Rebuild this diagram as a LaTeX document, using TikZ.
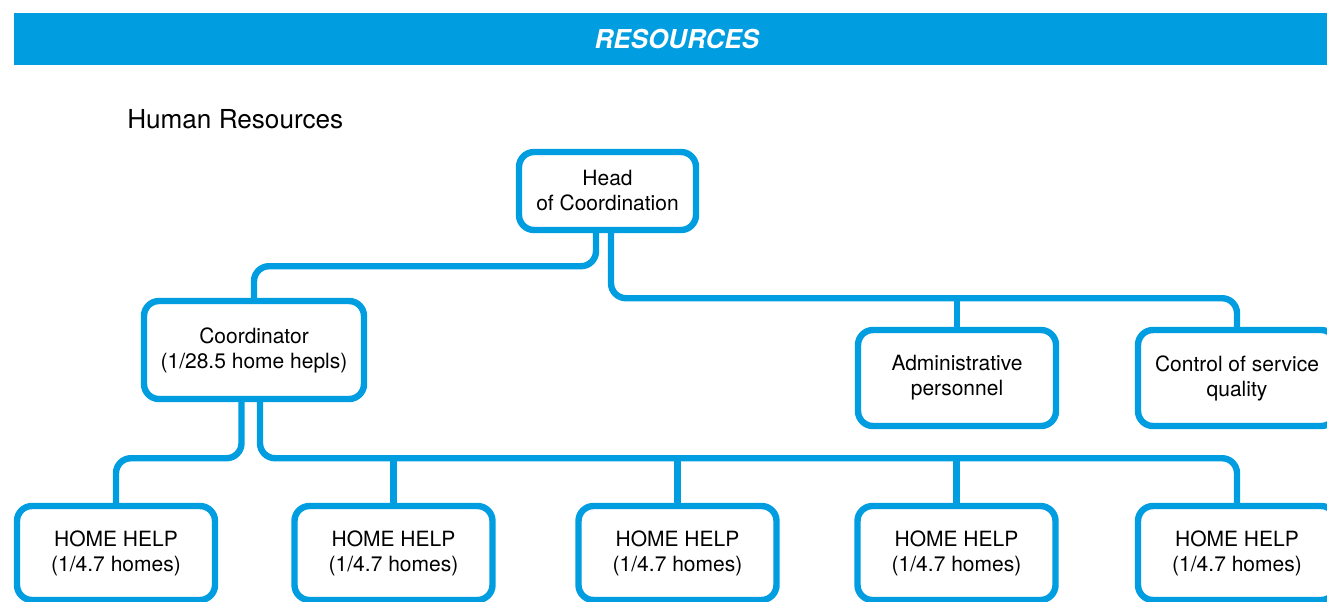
\documentclass[tikz,border=0pt]{standalone}
\usepackage{tikz}
\usepackage{xcolor}
\usepackage{fontspec}
\setmainfont{TeX Gyre Heros}
\usetikzlibrary{calc}
\definecolor{hrblue}{RGB}{0,158,224}

\begin{document}
\begin{tikzpicture}[x=0.75pt,y=0.75pt,yscale=-1,xscale=1,
  unit/.style={draw=hrblue, line width=4.8pt, rounded corners=11.25pt, fill=white, inner sep=0pt, align=center, font=\fontsize{15.75}{18.75}\selectfont},
  helper/.style={unit, minimum width=148.5pt, minimum height=70.5pt},
  link/.style={draw=hrblue, line width=4.8pt, rounded corners=11.25pt}]
\useasboundingbox (0,0) rectangle (1327,601);

%Banner [id:banner]
\node [fill=hrblue, anchor=north west, inner sep=0pt, minimum width=993.75pt, minimum height=39pt, text=white, font=\fontsize{19.5}{20}\selectfont\bfseries\itshape] (banner) at (14,13) {RESOURCES};
% Text Node
\node [anchor=west, inner sep=0pt, font=\fontsize{19.6}{21}\selectfont] (title) at (127,119) {Human Resources};

%Rounded Rect [id:head]
\node [unit, minimum width=132.75pt, minimum height=58.5pt] (head) at (607.5,191) {Head\\of Coordination};
%Rounded Rect [id:coord]
\node [unit, minimum width=165pt, minimum height=73.5pt] (coord) at (254,350) {Coordinator\\(1/28.5 home hepls)};
%Rounded Rect [id:admin]
\node [unit, minimum width=148.5pt, minimum height=72pt] (admin) at (957,378) {Administrative\\personnel};
%Rounded Rect [id:quality]
\node [unit, minimum width=148.5pt, minimum height=72pt] (quality) at (1237,378) {Control of service\\quality};

%Rounded Rect [id:hh1..hh5]
\node [helper] (hh1) at (116,553) {HOME HELP\\(1/4.7 homes)};
\node [helper] (hh2) at (393.5,553) {HOME HELP\\(1/4.7 homes)};
\node [helper] (hh3) at (677.5,553) {HOME HELP\\(1/4.7 homes)};
\node [helper] (hh4) at (956.5,553) {HOME HELP\\(1/4.7 homes)};
\node [helper] (hh5) at (1237,553) {HOME HELP\\(1/4.7 homes)};

%Connectors: head of coordination
\coordinate (lbus) at ($(head.south)+(-11.5,33)$);
\coordinate (rbus) at ($(head.south)+(3.5,65)$);
\draw [link] ($(head.south)+(-11.5,0)$) -- (lbus) -| (coord.north);
\draw [link] ($(head.south)+(3.5,0)$) -- (rbus) -| (quality.north);
\draw [link] (admin.north) -- (admin.north |- rbus);

%Connectors: coordinator
\coordinate (cbus) at ($(coord.south)+(-12.5,56)$);
\coordinate (hbus) at ($(coord.south)+(6,56)$);
\draw [link] ($(coord.south)+(-12.5,0)$) -- (cbus) -| (hh1.north);
\draw [link] ($(coord.south)+(6,0)$) -- (hbus) -| (hh5.north);
\draw [link] (hh2.north) -- (hh2.north |- hbus);
\draw [link] (hh3.north) -- (hh3.north |- hbus);
\draw [link] (hh4.north) -- (hh4.north |- hbus);

\end{tikzpicture}
\end{document}
